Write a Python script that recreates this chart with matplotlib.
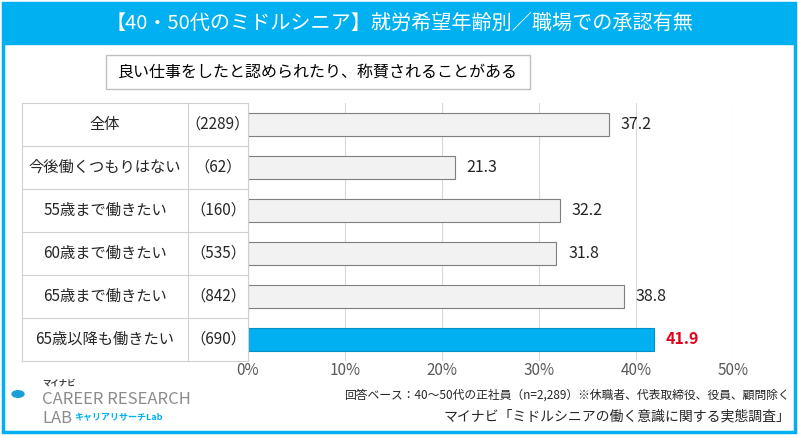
import matplotlib.pyplot as plt
from matplotlib.patches import Rectangle

plt.rcParams['font.family'] = ['Noto Sans CJK JP', 'DejaVu Sans']

categories = ['全体', '今後働くつもりはない', '55歳まで働きたい', '60歳まで働きたい', '65歳まで働きたい', '65歳以降も働きたい']
counts = ['(2289)', '(62)', '(160)', '(535)', '(842)', '(690)']
values = [37.2, 21.3, 32.2, 31.8, 38.8, 41.9]
ticks = [0, 10, 20, 30, 40, 50]

W, H = 798, 436
blue = '#00B0F0'
fig = plt.figure(figsize=(W / 100, H / 100), dpi=100)

def fx(px): return px / W
def fy(py): return 1 - py / H

# frame and title band
fig.patches.append(Rectangle((fx(3), fy(432)), fx(792), 429 / H, transform=fig.transFigure,
                             fill=False, edgecolor=blue, lw=2.5))
fig.patches.append(Rectangle((fx(3), fy(44)), fx(792), 41 / H, transform=fig.transFigure,
                             facecolor=blue, edgecolor=blue))
fig.text(0.5, fy(23), '【40・50代のミドルシニア】就労希望年齢別／職場での承認有無', color='white',
         fontsize=14.5, ha='center', va='center')
fig.patches.append(Rectangle((fx(106), fy(89)), fx(424), 34 / H, transform=fig.transFigure,
                             facecolor='white', edgecolor='#bfbfbf', lw=1))
fig.text(fx(318), fy(72), '良い仕事をしたと認められたり、称賛されることがある', fontsize=11.5,
         ha='center', va='center')

top, bottom = 103, 361
ax = fig.add_axes([fx(248), fy(bottom), fx(733 - 248), (bottom - top) / H])
n = len(categories)
y = list(range(n))
colors = ['#f2f2f2'] * (n - 1) + [blue]
ax.barh(y, values, height=0.52, color=colors, edgecolor=['#7f7f7f'] * (n - 1) + ['#0090c8'], lw=0.8, zorder=3)
for i, v in enumerate(values):
    last = i == n - 1
    ax.text(v + 1.2, i, f'{v:.1f}', va='center', fontsize=11.5,
            color='#e3001b' if last else '#262626', fontweight='bold' if last else 'normal')
ax.set_xlim(0, 50)
ax.set_ylim(n - 0.5, -0.5)
ax.set_xticks(ticks)
ax.set_xticklabels([f'{t}%' for t in ticks], color='#595959', fontsize=11)
ax.set_yticks([])
ax.tick_params(axis='x', length=0, pad=1)
ax.grid(axis='x', color='#d9d9d9', lw=0.8, zorder=0)
for s in ax.spines.values():
    s.set_visible(False)

# table on the left
row_h = (bottom - top) / n
for i in range(n + 1):
    yy = fy(top + i * row_h)
    fig.add_artist(plt.Line2D([fx(22), fx(248)], [yy, yy], color='#d0d0d0', lw=0.8))
for xx in [22, 188, 248]:
    fig.add_artist(plt.Line2D([fx(xx), fx(xx)], [fy(top), fy(bottom)], color='#d0d0d0', lw=0.8))
for i in range(n):
    yc = fy(top + (i + 0.5) * row_h)
    fig.text(fx(105), yc, categories[i], fontsize=11, ha='center', va='center', color='#262626')
    fig.text(fx(218), yc, counts[i].replace('(', '（').replace(')', '）'), fontsize=11,
             ha='center', va='center', color='#262626')

# footer
fig.text(fx(790), fy(395), '回答ベース：40～50代の正社員（n=2,289）※休職者、代表取締役、役員、顧問除く',
         fontsize=8.5, ha='right', va='center', color='#262626')
fig.text(fx(790), fy(416), 'マイナビ「ミドルシニアの働く意識に関する実態調査」',
         fontsize=10, ha='right', va='center', color='#262626')
fig.text(fx(42), fy(383), 'マイナビ', fontsize=6, fontweight='bold', color='#404040', va='center')
fig.text(fx(42), fy(399), 'CAREER RESEARCH', fontsize=12, color='#8c8c8c', va='center')
fig.text(fx(42), fy(418), 'LAB', fontsize=12, color='#8c8c8c', va='center')
fig.text(fx(74), fy(418), 'キャリアリサーチLab', fontsize=6.5, color=blue, fontweight='bold', va='center')
fig.patches.append(plt.Circle((fx(18), fy(394)), 6 / W, transform=fig.transFigure, color='#1aa0d8'))

fig.savefig('out.png', dpi=100)
